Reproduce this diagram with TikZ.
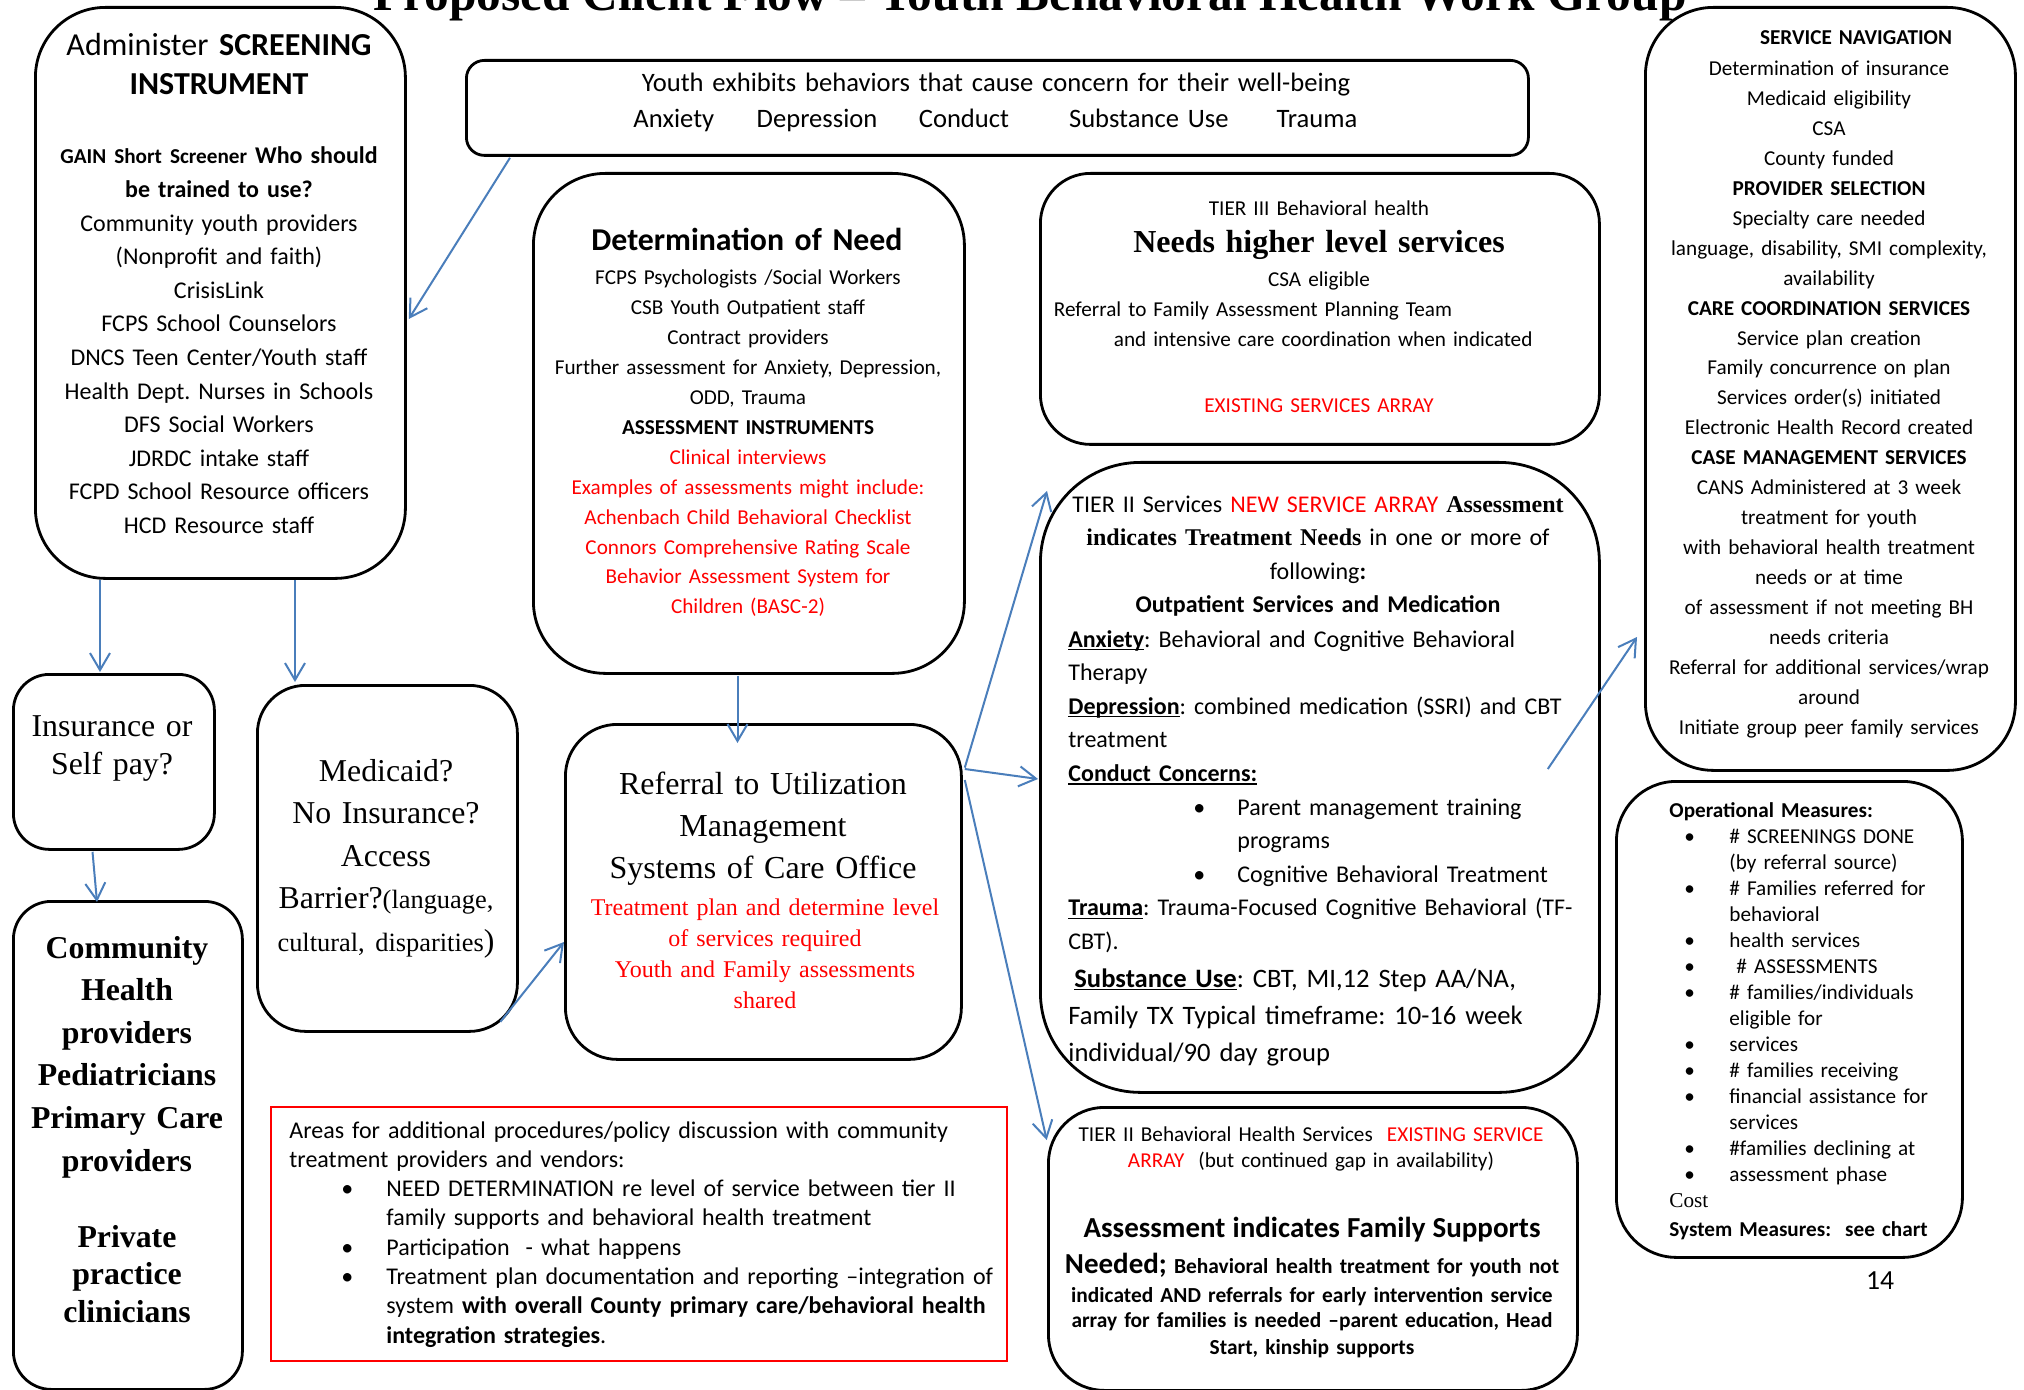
\documentclass[tikz,border=0pt]{standalone}
\usepackage{fontspec}
\setmainfont{Carlito}
\newfontfamily\tnr{Liberation Serif}
\usetikzlibrary{calc,arrows.meta}
\definecolor{flowblue}{RGB}{74,126,187}
\lineskiplimit=-100pt
\frenchspacing
\def\bulitem#1#2#3{\hspace*{#1}\makebox[#2][l]{\textbullet}#3}
\def\undl#1{\leavevmode\setbox0\hbox{#1}\rlap{\rule[-1.6pt]{\wd0}{0.7pt}}\box0}

\begin{document}
\frenchspacing
\begin{tikzpicture}[x=0.5pt, y=-0.5pt,
	box/.style={draw, line width=1.4pt, rounded corners=#1, inner sep=0pt, anchor=north west},
	redbox/.style={draw=red, line width=1.2pt, inner sep=0pt, anchor=north west},
	txt/.style={anchor=base, inner sep=0pt, align=center, text width=#1},
	ltxt/.style={anchor=base west, inner sep=0pt, align=left, text width=#1},
	flow/.style={draw=flowblue, line width=1pt, -{Straight Barb[length=8.5pt,width=10pt]}}]
	%%%%% START %%%%%
	
	\useasboundingbox (0,0) rectangle (2024,1390);
	\fill[white] (0,0) rectangle (2024,1390);
	
	% title, cut by the page top
	\node[anchor=base, inner sep=0pt, font=\tnr\bfseries\fontsize{24.7}{30}\selectfont] (title) at (1030,11) {Proposed Client Flow – Youth Behavioral Health Work Group};
	
	% boxes
	\node[box=35pt, minimum width=185pt, minimum height=285.5pt] (screen) at (34,6) {};
	\node[box=9pt, minimum width=531pt, minimum height=47.5pt] (youth) at (465,59) {};
	\node[box=36pt, minimum width=215.5pt, minimum height=250pt] (need) at (532,172) {};
	\node[box=25pt, minimum width=279.5pt, minimum height=135.5pt] (tier3) at (1039,172) {};
	\node[box=34pt, minimum width=185pt, minimum height=381.5pt] (nav) at (1644,6) {};
	\node[box=18pt, minimum width=100.5pt, minimum height=87.5pt] (ins) at (12,673) {};
	\node[box=24pt, minimum width=130pt, minimum height=173pt] (medi) at (256,684) {};
	\node[box=19pt, minimum width=114.5pt, minimum height=244pt] (comm) at (12,900) {};
	\node[box=26pt, minimum width=198pt, minimum height=167.5pt] (ref) at (564,723) {};
	\node[redbox, minimum width=368pt, minimum height=127pt] (areas) at (270,1106) {};
	\node[box=50pt, minimum width=279.5pt, minimum height=315pt] (tier2) at (1039,461) {};
	\node[box=28pt, minimum width=264.5pt, minimum height=141.5pt] (tier2bh) at (1047,1106) {};
	\node[box=30pt, minimum width=173pt, minimum height=238pt] (ops) at (1615,780) {};
	
	% screening
	\node[txt=180pt, font=\fontsize{16}{19.5}\selectfont] (screenhd) at (219,56) {Administer \textbf{SCREENING}\\\textbf{INSTRUMENT}};
	\node[txt=180pt, font=\fontsize{12}{16.8}\selectfont] (screenbd) at (219,164) {{\fontsize{10.6}{12}\selectfont\textbf{GAIN Short Screener}} \textbf{Who should}\\\textbf{be trained to use?}\\Community youth providers\\(Nonprofit and faith)\\CrisisLink\\FCPS School Counselors\\DNCS Teen Center/Youth staff\\Health Dept. Nurses in Schools\\DFS Social Workers\\JDRDC intake staff\\FCPD School Resource officers\\HCD Resource staff};
	
	% youth behaviours
	\node[txt=540pt, font=\fontsize{13.3}{18}\selectfont] (youthhd) at (996,92) {Youth exhibits behaviors that cause concern for their well-being};
	\node[ltxt=520pt, font=\fontsize{13.3}{18}\selectfont] (youthls) at (633,128) {Anxiety\hspace{21.25pt}Depression\hspace{20.75pt}Conduct\hspace{30pt}Substance Use\hspace{24pt}Trauma};
	
	% determination of need
	\node[txt=210pt, font=\bfseries\fontsize{15.9}{19}\selectfont] (needhd) at (747,251) {Determination of Need};
	\node[txt=210pt, font=\fontsize{10.6}{14.95}\selectfont] (needbd) at (748,285) {FCPS Psychologists /Social Workers\\CSB Youth Outpatient staff\\Contract providers\\Further assessment for Anxiety, Depression,\\ODD, Trauma\\\textbf{ASSESSMENT INSTRUMENTS}\\{\color{red}Clinical interviews\\Examples of assessments might include:\\Achenbach Child Behavioral Checklist\\Connors Comprehensive Rating Scale\\Behavior Assessment System for\\Children (BASC-2)}};
	
	% tier III
	\node[txt=270pt, font=\fontsize{10.6}{15}\selectfont] (t3a) at (1319,216) {TIER III Behavioral health};
	\node[txt=270pt, font=\tnr\bfseries\fontsize{16}{19}\selectfont] (t3b) at (1319,253) {Needs higher level services};
	\node[txt=270pt, font=\fontsize{10.6}{15}\selectfont] (t3c) at (1319,286.5) {CSA eligible};
	\node[ltxt=270pt, font=\fontsize{10.6}{14.8}\selectfont] (t3d) at (1053.5,317) {Referral to Family Assessment Planning Team\\\hspace*{30pt}and intensive care coordination when indicated};
	\node[txt=270pt, font=\fontsize{10.6}{15}\selectfont, text=red] (t3e) at (1319,413) {EXISTING SERVICES ARRAY};
	
	% service navigation
	\node[txt=180pt, font=\bfseries\fontsize{10.6}{15}\selectfont] (navhd) at (1856,45) {SERVICE NAVIGATION};
	\node[txt=184pt, font=\fontsize{10.6}{14.975}\selectfont] (navbd) at (1829,75.5) {Determination of insurance\\Medicaid eligibility\\CSA\\County funded\\\textbf{PROVIDER SELECTION}\\Specialty care needed\\language, disability, SMI complexity,\\availability\\\textbf{CARE COORDINATION SERVICES}\\Service plan creation\\Family concurrence on plan\\Services order(s) initiated\\Electronic Health Record created\\\textbf{CASE MANAGEMENT SERVICES}\\CANS Administered at 3 week\\treatment for youth\\with behavioral health treatment\\needs or at time\\of assessment if not meeting BH\\needs criteria\\Referral for additional services/wrap\\around\\Initiate group peer family services};
	
	% payment
	\node[txt=98pt, font=\tnr\fontsize{15.9}{19}\selectfont] (inshd) at (112,736) {Insurance or\\Self pay?};
	\node[txt=126pt, font=\tnr\fontsize{15.9}{21.3}\selectfont] (medihd) at (386,781) {Medicaid?\\No Insurance?\\Access\\Barrier?{\fontsize{13.2}{15}\selectfont(language,}\\{\fontsize{13.2}{15}\selectfont cultural, disparities})};
	
	% community providers
	\node[txt=110pt, font=\tnr\bfseries\fontsize{15.9}{21.3}\selectfont] (commhd) at (127,958) {Community\\Health\\providers\\Pediatricians\\Primary Care\\providers};
	\node[txt=110pt, font=\tnr\bfseries\fontsize{15.9}{18.75}\selectfont] (commpp) at (127,1247) {Private\\practice\\clinicians};
	
	% referral
	\node[txt=190pt, font=\tnr\fontsize{16}{21}\selectfont] (refhd) at (763,794) {Referral to Utilization\\Management\\Systems of Care Office};
	\node[txt=190pt, font=\tnr\fontsize{12}{15.6}\selectfont, text=red] (refbd) at (765,915) {Treatment plan and determine level\\of services required\\Youth and Family assessments\\shared};
	
	% policy areas
	\node[ltxt=380pt, font=\fontsize{12}{14.65}\selectfont] (areasbd) at (289,1138) {Areas for additional procedures/policy discussion with community\\treatment providers and vendors:\\\bulitem{26pt}{22.5pt}{NEED DETERMINATION re level of service between tier II}\\\hspace*{48.5pt}family supports and behavioral health treatment\\\bulitem{26pt}{22.5pt}{Participation\ \ - what happens}\\\bulitem{26pt}{22.5pt}{Treatment plan documentation and reporting –integration of}\\\hspace*{48.5pt}system \textbf{with overall County primary care/behavioral health}\\\hspace*{48.5pt}\textbf{integration strategies}.};
	
	% tier II
	\node[txt=275pt, font=\fontsize{12}{16.8}\selectfont] (t2hd) at (1318,512) {TIER II Services {\color{red}NEW SERVICE ARRAY} {\tnr\bfseries Assessment}\\{\tnr\bfseries indicates Treatment Needs} in one or more of\\following\textbf{:}\\\textbf{Outpatient Services and Medication}};
	\node[ltxt=275pt, font=\fontsize{12}{16.8}\selectfont] (t2bd) at (1068,647) {\undl{\textbf{Anxiety}}: Behavioral and Cognitive Behavioral\\Therapy\\\undl{\textbf{Depression}}: combined medication (SSRI) and CBT\\treatment\\\undl{\textbf{Conduct Concerns:}}\\\bulitem{62.5pt}{22pt}{Parent management training}\\\hspace*{84.5pt}programs\\\bulitem{62.5pt}{22pt}{Cognitive Behavioral Treatment}\\\undl{\textbf{Trauma}}: Trauma-Focused Cognitive Behavioral (TF-\\CBT).};
	\node[ltxt=275pt, font=\fontsize{13.3}{18.5}\selectfont] (t2sub) at (1068,987) {\hspace*{3pt}\undl{\textbf{Substance Use}}: CBT, MI,12 Step AA/NA,\\Family TX Typical timeframe: 10-16 week\\individual/90 day group};
	
	% tier II family supports
	\node[txt=262pt, font=\fontsize{10.6}{13}\selectfont] (t2bhhd) at (1311,1141) {TIER II Behavioral Health Services\ \ {\color{red}EXISTING SERVICE}\\{\color{red}ARRAY}\ \ (but continued gap in availability)};
	\node[txt=262pt, font=\bfseries\fontsize{10.7}{13.5}\selectfont] (t2bhbd) at (1312,1237) {{\fontsize{14.5}{17}\selectfont Assessment indicates Family Supports}\\[4.5pt]{\fontsize{14.5}{17}\selectfont Needed;} Behavioral health treatment for youth not\\[1pt]indicated AND referrals for early intervention service\\[-1pt]array for families is needed –parent education, Head\\Start, kinship supports};
	
	% measures
	\node[ltxt=170pt, font=\fontsize{10.6}{13}\selectfont] (opsbd) at (1669,817) {\textbf{Operational Measures:}\\\bulitem{7.5pt}{22.5pt}{\# SCREENINGS DONE}\\\hspace*{30pt}(by referral source)\\\bulitem{7.5pt}{22.5pt}{\# Families referred for}\\\hspace*{30pt}behavioral\\\bulitem{7.5pt}{22.5pt}{health services}\\\bulitem{7.5pt}{22.5pt}{\ \# ASSESSMENTS}\\\bulitem{7.5pt}{22.5pt}{\# families/individuals}\\\hspace*{30pt}eligible for\\\bulitem{7.5pt}{22.5pt}{services}\\\bulitem{7.5pt}{22.5pt}{\# families receiving}\\\bulitem{7.5pt}{22.5pt}{financial assistance for}\\\hspace*{30pt}services\\\bulitem{7.5pt}{22.5pt}{\#families declining at}\\\bulitem{7.5pt}{22.5pt}{assessment phase}\\{\tnr Cost}\\[1.5pt]\textbf{System Measures:\ \ see chart}};
	\node[anchor=base, inner sep=0pt, font=\fontsize{13.8}{16}\selectfont] (pgnum) at (1880,1289) {14};
	
	% connectors
	\draw[flow] ($(youth.south west)+(45,1)$) -- ($(screen.north east)+(2,313)$);
	\draw[flow] ($(screen.south west)+(66,0)$) -- ($(ins.north west)+(88,-1)$);
	\draw[flow] ($(screen.south west)+(261,0)$) -- ($(medi.north west)+(39,-2)$);
	\draw[flow] ($(ins.south west)+(80.5,1)$) -- ($(comm.north west)+(85,2)$);
	\draw[flow] ($(need.south west)+(205.5,1)$) -- ($(ref.north west)+(173.5,20)$);
	\draw[flow] ($(medi.south east)+(-18.4,-11)$) -- ($(ref.north west)+(0,219)$);
	\draw[flow] ($(ref.north east)+(2,44.6)$) -- ($(tier2.north west)+(8,30)$);
	\draw[flow] ($(ref.north east)+(2,46)$) -- ($(tier2.north west)+(-1,318)$);
	\draw[flow] ($(ref.north east)+(2,57)$) -- ($(tier2bh.north west)+(-0.3,34)$);
	\draw[flow] ($(tier2.north east)+(-53,308)$) -- ($(nav.north west)+(-7,631)$);
	
	%%%%% END %%%%%
\end{tikzpicture}
\end{document}
